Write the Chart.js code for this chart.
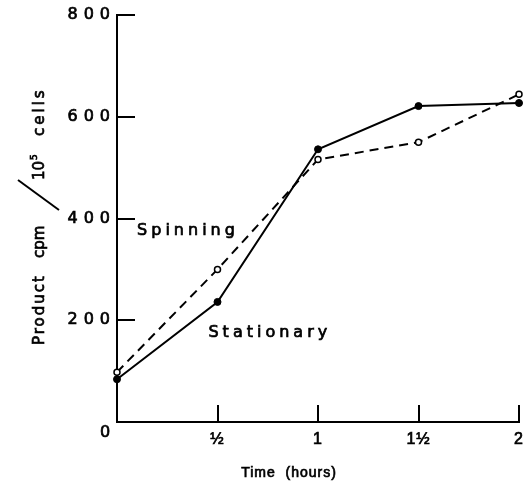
<!DOCTYPE html>
<html>
<head>
<meta charset="utf-8">
<script src="https://cdn.jsdelivr.net/npm/chart.js@4.4.0/dist/chart.umd.min.js"></script>
<style>
    html, body { margin: 0; padding: 0; background: #fff; }
</style>
</head>
<body>
<canvas id="productChart" width="525" height="487"></canvas>
<script>
// values
const hours = [0, 0.5, 1, 1.5, 2];
const stationary = [84, 236, 536, 621, 627];
const spinning = [98, 300, 516, 550, 644];
const xTickLabels = ['0', '½', '1', '1½', '2'];
const yTicks = [0, 200, 400, 600, 800];

// curve names sit next to the lines (data units: hours, cpm)
const curveNames = ['Spinning', 'Stationary'];
const curveNameAt = [[0.1, 367], [0.455, 167]];

const FONT = "'DejaVu Sans', sans-serif";
const FONT_X = "'Liberation Sans', Arial, sans-serif";
const INK = 0.7; // thin outline to thicken the printed lettering a bit

// paper-style bits: inward ticks, spaced lettering, axis titles
const paperPlugin = {
    id: 'paper',
    beforeDraw(chart) {
        // y tick labels are widely spaced in the original
        chart.ctx.letterSpacing = '6px';
    },
    afterDatasetsDraw(chart) {
        // x tick labels (drawn after datasets, ticks.z = 1) are tighter
        chart.ctx.letterSpacing = '1px';
    },
    afterDraw(chart) {
        const { ctx, chartArea, scales: { x, y } } = chart;
        const ink = (text, px, py) => {
            ctx.fillText(text, px, py);
            ctx.strokeText(text, px, py);
        };
        ctx.save();
        ctx.strokeStyle = '#000';
        ctx.fillStyle = '#000';
        ctx.lineWidth = 2;

        // tick marks point into the plot
        ctx.beginPath();
        yTicks.filter(v => v > 0).forEach(v => {
            const py = Math.round(y.getPixelForValue(v));
            ctx.moveTo(chartArea.left, py);
            ctx.lineTo(chartArea.left + 18, py);
        });
        hours.filter(v => v > 0).forEach(v => {
            const px = Math.round(x.getPixelForValue(v));
            ctx.moveTo(px, chartArea.bottom);
            ctx.lineTo(px, chartArea.bottom - 17);
        });
        ctx.stroke();

        // slash in the y title
        ctx.beginPath();
        ctx.moveTo(18, 180);
        ctx.lineTo(59, 210);
        ctx.stroke();

        ctx.lineWidth = INK;

        // shared origin label
        ctx.font = `16px ${FONT}`;
        ctx.letterSpacing = '0px';
        ctx.textAlign = 'center';
        ctx.textBaseline = 'middle';
        ink(xTickLabels[0], x.getPixelForValue(0) - 12, chartArea.bottom + 11);

        // curve names
        ctx.font = `16px ${FONT}`;
        ctx.letterSpacing = '4px';
        ctx.textAlign = 'left';
        ctx.textBaseline = 'alphabetic';
        curveNames.forEach((name, i) => {
            ink(name, x.getPixelForValue(curveNameAt[i][0]), y.getPixelForValue(curveNameAt[i][1]));
        });

        // x axis title
        ctx.font = `14px ${FONT_X}`;
        ctx.letterSpacing = '1px';
        ctx.textAlign = 'center';
        ctx.textBaseline = 'middle';
        ink('Time  (hours)', chartArea.left + 172, chartArea.bottom + 51);

        // y axis title: "Product cpm / 10^5 cells", rotated
        const base = 44;
        const rot = (text, pageY, size, spacing, shift) => {
            ctx.save();
            ctx.translate(base - (shift || 0), pageY);
            ctx.rotate(-Math.PI / 2);
            ctx.font = `${size}px ${FONT}`;
            ctx.letterSpacing = spacing + 'px';
            ctx.textAlign = 'left';
            ctx.textBaseline = 'alphabetic';
            ink(text, 0, 0);
            ctx.restore();
        };
        rot('Product', 345, 15, 2);
        rot('cpm', 258, 15, 0);
        rot('10', 180, 15, 0);
        rot('5', 160, 9, 0, 7);
        rot('cells', 136, 15, 3);

        ctx.restore();
    }
};

const ctx = document.getElementById('productChart').getContext('2d');
new Chart(ctx, {
    type: 'line',
    data: {
        datasets: [
            {
                label: 'Stationary',
                data: hours.map((h, i) => ({ x: h, y: stationary[i] })),
                borderColor: '#000',
                backgroundColor: '#000',
                borderWidth: 2,
                pointRadius: 3.5,
                pointBackgroundColor: '#000',
                pointBorderColor: '#000',
                pointBorderWidth: 1,
                tension: 0,
                clip: false
            },
            {
                label: 'Spinning',
                data: hours.map((h, i) => ({ x: h, y: spinning[i] })),
                borderColor: '#000',
                backgroundColor: '#fff',
                borderWidth: 2,
                borderDash: [9, 6],
                pointRadius: 3,
                pointBackgroundColor: '#fff',
                pointBorderColor: '#000',
                pointBorderWidth: 1.5,
                tension: 0,
                clip: false
            }
        ]
    },
    options: {
        responsive: false,
        animation: false,
        devicePixelRatio: 1,
        layout: { padding: { top: 15, right: 0, left: 0, bottom: 0 } },
        plugins: {
            legend: { display: false },
            tooltip: { enabled: false }
        },
        scales: {
            x: {
                type: 'linear',
                min: 0,
                max: 2,
                afterFit: scale => {
                    scale.height = 65;
                    scale.paddingLeft = 0;
                    scale.paddingRight = 6;
                },
                grid: { display: false, drawTicks: false },
                border: { color: '#000', width: 2 },
                ticks: {
                    stepSize: 0.5,
                    padding: 8,
                    z: 1,
                    autoSkip: false,
                    maxRotation: 0,
                    color: '#000',
                    textStrokeColor: '#000',
                    textStrokeWidth: INK,
                    font: { family: FONT_X, size: 16 },
                    callback: value => {
                        const i = hours.indexOf(value);
                        return i > 0 ? xTickLabels[i] : '';
                    }
                }
            },
            y: {
                min: 0,
                max: 800,
                afterFit: scale => { scale.width = 117; },
                grid: { display: false, drawTicks: false },
                border: { color: '#000', width: 2 },
                ticks: {
                    stepSize: 200,
                    padding: 1,
                    color: '#000',
                    textStrokeColor: '#000',
                    textStrokeWidth: INK,
                    font: { family: FONT, size: 16 },
                    callback: value => value === 0 ? '' : String(value)
                }
            }
        }
    },
    plugins: [paperPlugin]
});
</script>
</body>
</html>
